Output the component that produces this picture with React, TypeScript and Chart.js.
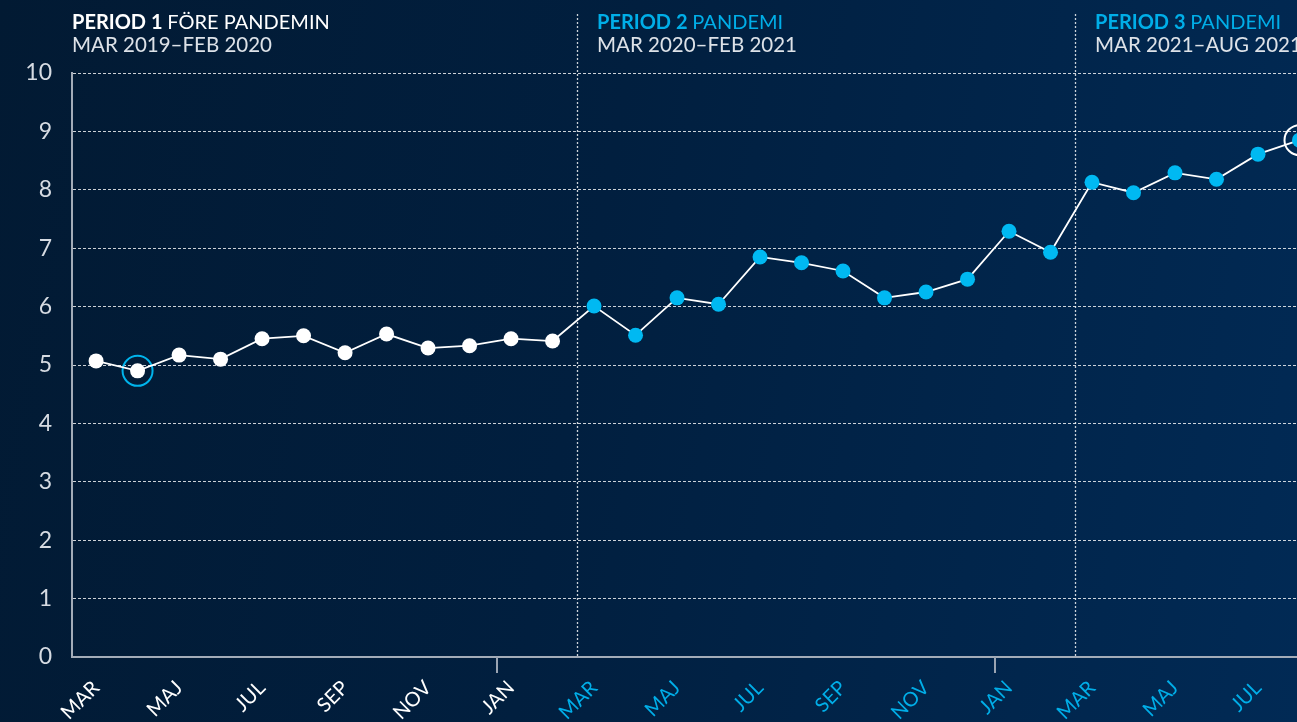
import React, { useEffect, useRef } from 'react';
import { Chart, registerables } from 'chart.js';

Chart.register(...registerables);

// ---- data ----
const monthLabels = [
  'MAR', 'APR', 'MAJ', 'JUN', 'JUL', 'AUG', 'SEP', 'OKT', 'NOV', 'DEC', 'JAN', 'FEB',
  'MAR', 'APR', 'MAJ', 'JUN', 'JUL', 'AUG', 'SEP', 'OKT', 'NOV', 'DEC', 'JAN', 'FEB',
  'MAR', 'APR', 'MAJ', 'JUN', 'JUL', 'AUG',
];
const values = [
  5.07, 4.9, 5.17, 5.1, 5.45, 5.5, 5.21, 5.53, 5.29, 5.33, 5.45, 5.41,
  6.01, 5.51, 6.15, 6.04, 6.85, 6.75, 6.61, 6.15, 6.25, 6.47, 7.29, 6.93,
  8.13, 7.95, 8.29, 8.18, 8.61, 8.85,
];
const periodStarts = [0, 12, 24];
const highlightIndices = [1, 29];
const highlightColors = ['#00b4ec', '#ffffff'];
const yTickValues = [0, 1, 2, 3, 4, 5, 6, 7, 8, 9, 10];
const periodBold = ['PERIOD 1', 'PERIOD 2', 'PERIOD 3'];
const periodName = ['FÖRE PANDEMIN', 'PANDEMI', 'PANDEMI'];
const periodRange = ['MAR 2019–FEB 2020', 'MAR 2020–FEB 2021', 'MAR 2021–AUG 2021'];
const dividerPositions = [11.58, 23.6];
const yearTickPositions = [9.65, 21.67];

const WHITE = '#ffffff';
const CYAN = '#00b9f2';
const CYAN_TEXT = '#00aee8';
const FONT = 'Lato, "Open Sans", sans-serif';

const periodOf = (i: number) => {
  let p = 0;
  periodStarts.forEach((s, k) => { if (i >= s) p = k; });
  return p;
};

const overlayPlugin = {
  id: 'overlay',
  beforeDatasetsDraw(chart: any) {
    const { ctx, chartArea, scales } = chart;
    const xs = scales.x;
    ctx.save();
    // period dividers
    ctx.strokeStyle = 'rgba(255,255,255,0.8)';
    ctx.lineWidth = 1.3;
    ctx.setLineDash([2, 2]);
    dividerPositions.forEach((p) => {
      const x = Math.round(xs.getPixelForValue(p)) + 0.5;
      ctx.beginPath();
      ctx.moveTo(x, 14);
      ctx.lineTo(x, chartArea.bottom);
      ctx.stroke();
    });
    ctx.setLineDash([]);
    // year tick marks
    ctx.strokeStyle = '#9aa4b2';
    ctx.lineWidth = 2;
    yearTickPositions.forEach((p) => {
      const x = Math.round(xs.getPixelForValue(p));
      ctx.beginPath();
      ctx.moveTo(x, chartArea.bottom);
      ctx.lineTo(x, chartArea.bottom + 16);
      ctx.stroke();
    });
    // headers
    ctx.textBaseline = 'alphabetic';
    ctx.textAlign = 'left';
    periodBold.forEach((b, k) => {
      const x = k === 0 ? chartArea.left : Math.round(xs.getPixelForValue(dividerPositions[k - 1])) + 20;
      const color = k === 0 ? WHITE : CYAN_TEXT;
      ctx.fillStyle = color;
      ctx.font = `bold 20px ${FONT}`;
      ctx.fillText(b, x, 29);
      const w = ctx.measureText(b + ' ').width;
      ctx.font = `20px ${FONT}`;
      ctx.fillText(periodName[k], x + w, 29);
      ctx.fillStyle = '#dde2e8';
      ctx.font = `20.5px ${FONT}`;
      ctx.fillText(periodRange[k], x, 52);
    });
    ctx.restore();
  },
};

export default function App() {
  const ref = useRef<HTMLCanvasElement | null>(null);

  useEffect(() => {
    if (!ref.current) return;
    document.body.style.margin = '0';
    document.body.style.overflow = 'hidden';
    const mainData = values.map((v, i) => ({ x: i, y: v }));
    const ringData = highlightIndices.map((i) => ({ x: i, y: values[i] }));
    const chart = new Chart(ref.current, {
      type: 'line',
      data: {
        datasets: [
          {
            data: ringData,
            showLine: false,
            pointRadius: 15,
            pointBackgroundColor: 'rgba(0,0,0,0)',
            pointBorderColor: highlightColors,
            pointBorderWidth: 2,
            order: 2,
          } as any,
          {
            data: mainData,
            borderColor: WHITE,
            borderWidth: 1.8,
            tension: 0,
            pointRadius: 7.5,
            pointBorderWidth: 0,
            pointBackgroundColor: values.map((_, i) => (periodOf(i) === 0 ? WHITE : CYAN)),
            order: 1,
          } as any,
        ],
      },
      options: {
        responsive: false,
        animation: false,
        events: [],
        layout: { padding: { left: 0, right: 0, top: 73, bottom: 0 } },
        plugins: { legend: { display: false }, tooltip: { enabled: false } },
        scales: {
          x: {
            type: 'linear',
            min: -0.58,
            max: 30,
            afterBuildTicks: (scale: any) => {
              scale.ticks = monthLabels.map((_, i) => ({ value: i }));
            },
            afterFit: (scale: any) => { scale.height = 65; },
            grid: { display: false, drawTicks: false },
            border: { display: true, color: '#a3acb8', width: 2 },
            ticks: {
              autoSkip: false,
              minRotation: 45,
              maxRotation: 45,
              padding: 19,
              font: { family: FONT, size: 20 },
              color: (c: any) => (periodOf(c.tick?.value ?? 0) === 0 ? WHITE : CYAN_TEXT),
              callback: (v: any) => {
                const i = Number(v);
                return i % 2 === 0 ? monthLabels[i] : '';
              },
            },
          },
          y: {
            min: 0,
            max: 10,
            afterBuildTicks: (scale: any) => {
              scale.ticks = yTickValues.map((v) => ({ value: v }));
            },
            afterFit: (scale: any) => { scale.width = 72; },
            grid: {
              drawTicks: false,
              lineWidth: 1,
              color: (c: any) => (c.tick && c.tick.value === 0 ? 'rgba(0,0,0,0)' : 'rgba(255,255,255,0.8)'),
            },
            border: { display: true, color: '#a3acb8', width: 2, dash: [3, 2] },
            ticks: {
              padding: 20,
              font: { family: FONT, size: 23 },
              color: '#d6dbe2',
            },
          },
        },
      },
      plugins: [overlayPlugin],
    });
    return () => chart.destroy();
  }, []);

  return (
    <div
      style={{
        position: 'fixed',
        left: 0,
        top: 0,
        width: 1297,
        height: 722,
        overflow: 'hidden',
        background: 'linear-gradient(100deg, #021a33 0%, #011f3f 45%, #012a55 100%)',
      }}
    >
      <canvas ref={ref} width={1358} height={722} style={{ position: 'absolute', left: 0, top: 0, width: 1358, height: 722 }} />
    </div>
  );
}
